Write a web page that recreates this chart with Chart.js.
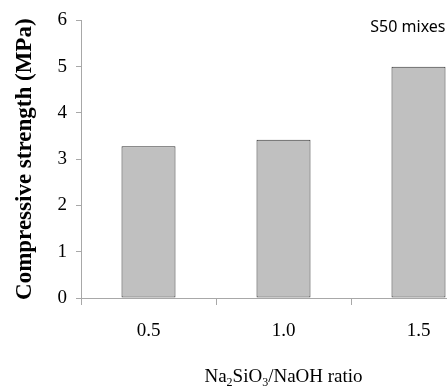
<!DOCTYPE html>
<html>
<head>
<meta charset="utf-8">
<script src="https://cdn.jsdelivr.net/npm/chart.js@4.4.1/dist/chart.umd.min.js"></script>
<style>
    html, body { margin: 0; padding: 0; background: #fff; overflow: hidden; }
    #wrap { position: relative; width: 488px; height: 388px; }
</style>
</head>
<body>
<div id="wrap"><canvas id="strengthChart"></canvas></div>
<script>
// Activator ratios on the x-axis
const ratios = ['0.5', '1.0', '1.5'];
// Compressive strength of S50 mixes (MPa)
const strength = [3.28, 3.42, 5.0];
// Y-axis tick range
const yTicks = [0, 1, 2, 3, 4, 5, 6];

const serif = '"Liberation Serif", "Times New Roman", serif';

// Draws the mix label in the top-right corner and the x-axis title with subscripts
const extraText = {
    id: 'extraText',
    afterDraw(chart) {
        const ctx = chart.ctx;
        const area = chart.chartArea;
        const x = chart.scales.x;

        ctx.save();
        ctx.fillStyle = '#000';
        ctx.font = '16px "Noto Sans", sans-serif';
        ctx.textAlign = 'right';
        ctx.textBaseline = 'top';
        ctx.fillText('S50 mixes', x.getPixelForValue(2) + 27, area.top - 1);

        // Na2SiO3/NaOH ratio, drawn piece by piece so the digits sit low
        const parts = [['Na', 0], ['2', 1], ['SiO', 0], ['3', 1], ['/NaOH ratio', 0]];
        const big = '19px ' + serif;
        const small = '12px ' + serif;
        let total = 0;
        parts.forEach(p => {
            ctx.font = p[1] ? small : big;
            total += ctx.measureText(p[0]).width;
        });
        let cx = (area.left + area.right) / 2 - total / 2;
        const baseY = chart.height - 6;
        ctx.textAlign = 'left';
        ctx.textBaseline = 'alphabetic';
        parts.forEach(p => {
            ctx.font = p[1] ? small : big;
            ctx.fillText(p[0], cx, p[1] ? baseY + 4 : baseY);
            cx += ctx.measureText(p[0]).width;
        });
        ctx.restore();
    }
};

const ctx = document.getElementById('strengthChart').getContext('2d');
const chart = new Chart(ctx, {
    type: 'bar',
    data: {
        labels: ratios,
        datasets: [{
            data: strength,
            backgroundColor: '#c0c0c0',
            borderColor: '#333',
            borderWidth: 1,
            borderSkipped: false,
            barPercentage: 0.4,
            categoryPercentage: 1.0
        }]
    },
    options: {
        responsive: true,
        maintainAspectRatio: false,
        animation: false,
        layout: { padding: { top: 17, right: 2, left: 0, bottom: 0 } },
        plugins: {
            legend: { display: false },
            tooltip: { enabled: false }
        },
        scales: {
            x: {
                grid: {
                    offset: true,
                    drawOnChartArea: false,
                    tickLength: 7,
                    color: '#a8a8a8'
                },
                border: { color: '#a8a8a8', width: 1, z: 1 },
                ticks: {
                    font: { family: serif, size: 19 },
                    color: '#000',
                    padding: 15
                },
                afterFit(scale) { scale.height = 90; }
            },
            y: {
                min: yTicks[0],
                max: yTicks[yTicks.length - 1],
                ticks: {
                    stepSize: 1,
                    font: { family: serif, size: 19 },
                    color: '#000',
                    padding: 9
                },
                grid: {
                    drawOnChartArea: false,
                    tickLength: 5,
                    color: '#a8a8a8'
                },
                border: { color: '#a8a8a8', width: 1 },
                title: {
                    display: true,
                    text: 'Compressive strength (MPa)',
                    font: { family: serif, size: 23, weight: 'bold' },
                    color: '#000',
                    padding: { top: 11, bottom: 0 }
                },
                afterFit(scale) { scale.width = 81; }
            }
        }
    },
    plugins: [extraText]
});
</script>
</body>
</html>
